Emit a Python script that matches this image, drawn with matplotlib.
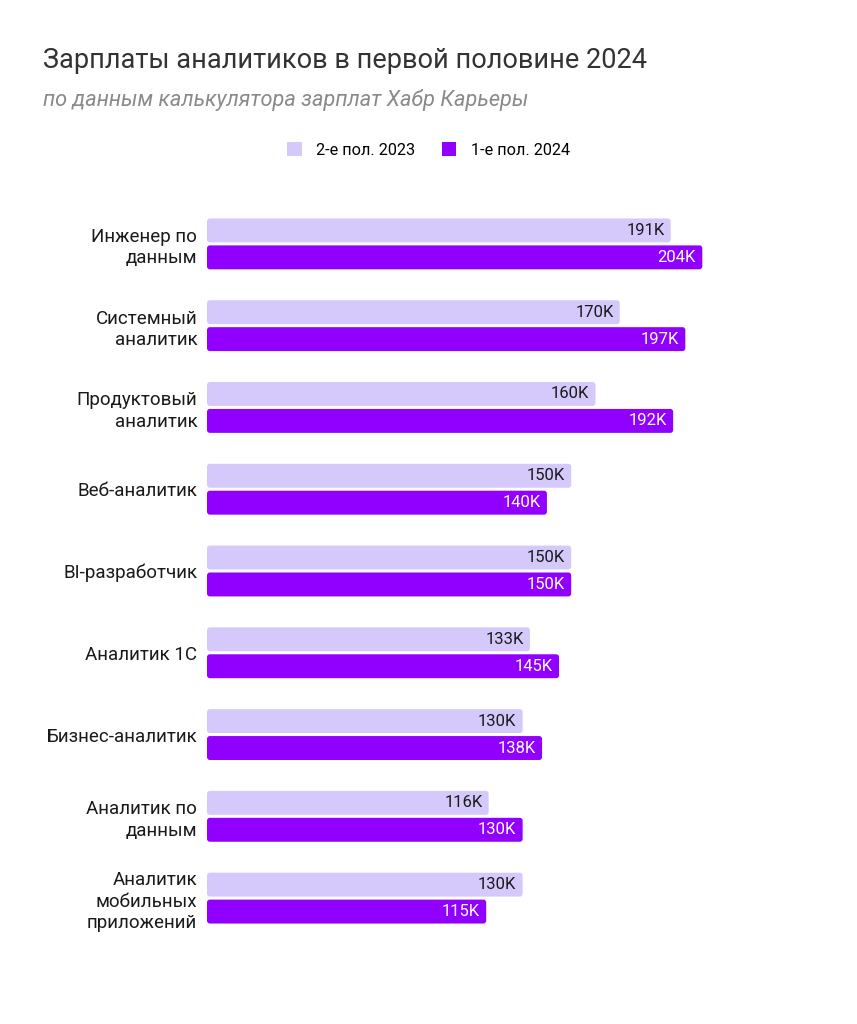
import matplotlib
matplotlib.use('Agg')
import numpy as np
from matplotlib import pyplot as plt
from matplotlib.patches import FancyBboxPatch, Patch

plt.rcParams['font.family'] = ['Roboto', 'DejaVu Sans']

categories = ['Инженер по\nданным', 'Системный\nаналитик', 'Продуктовый\nаналитик',
              'Веб-аналитик', 'BI-разработчик', 'Аналитик 1С', 'Бизнес-аналитик',
              'Аналитик по\nданным', 'Аналитик\nмобильных\nприложений']
h2_2023 = [191, 170, 160, 150, 150, 133, 130, 116, 130]
h1_2024 = [204, 197, 192, 140, 150, 145, 138, 130, 115]
series_names = ['2-е пол. 2023', '1-е пол. 2024']

light = '#d5c9fc'
purple = '#9100ff'

W, H = 857, 1024
fig = plt.figure(figsize=(W / 100, H / 100), dpi=100)
ax = fig.add_axes([207 / W, 1 - 939 / H, (814 - 207) / W, (939 - 203) / H])

y = np.arange(len(categories))
bh = 24 / 82
off = 13.5 / 82
b1 = ax.barh(y - off, h2_2023, height=bh, color=light)
b2 = ax.barh(y + off, h1_2024, height=bh, color=purple)

ax.set_xlim(0, 250)
ax.set_ylim(len(categories) - 0.5, -0.5)

# swap plain rectangles for slightly rounded ones
for bars in (b1, b2):
    for p in bars.patches:
        r = FancyBboxPatch((p.get_x(), p.get_y()), p.get_width(), p.get_height(),
                           boxstyle='round,pad=0,rounding_size=1.2',
                           mutation_aspect=2.43 / 82,
                           facecolor=p.get_facecolor(), edgecolor='none')
        ax.add_patch(r)
        p.set_visible(False)

for bars, vals, tc in ((b1, h2_2023, '#1a1a1a'), (b2, h1_2024, 'white')):
    for p, v in zip(bars.patches, vals):
        ax.annotate(f'{v}K', (p.get_x() + p.get_width(), p.get_y() + p.get_height() / 2),
                    xytext=(-4.5, 0), textcoords='offset points', ha='right', va='center',
                    fontsize=12, color=tc)

ax.set_yticks(y)
ax.set_yticklabels(categories, fontsize=13.5, color='#1a1a1a', linespacing=1.25)
ax.tick_params(axis='y', length=0, pad=7)
ax.set_xticks([])
for s in ax.spines.values():
    s.set_visible(False)

fig.text(43 / W, 1 - 60 / H, 'Зарплаты аналитиков в первой половине 2024',
         fontsize=19.5, color='#333333', va='center', ha='left')
fig.text(43 / W, 1 - 100 / H, 'по данным калькулятора зарплат Хабр Карьеры',
         fontsize=15.7, color='#8a8a8a', style='italic', va='center', ha='left')

handles = [Patch(facecolor=light), Patch(facecolor=purple)]
fig.legend(handles, series_names, loc='center', bbox_to_anchor=(0.5, 1 - 150 / H),
           ncol=2, frameon=False, fontsize=11.7, handlelength=0.9, handleheight=0.9,
           handletextpad=0.9, columnspacing=1.6)

fig.savefig('out.png', dpi=100)
